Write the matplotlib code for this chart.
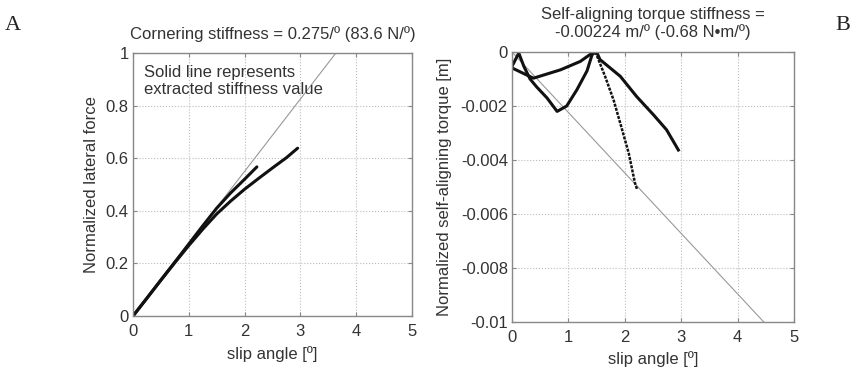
import numpy as np
import matplotlib
matplotlib.use("Agg")
import matplotlib.pyplot as plt

plt.rcParams['font.family'] = ['Liberation Sans', 'DejaVu Sans']

# Panel A: normalized lateral force vs slip angle
cornering_slope = 0.275
force_run1_x = [0, 0.25, 0.5, 0.75, 1.0, 1.25, 1.5, 1.75, 2.0, 2.22]
force_run1_y = [0, 0.068, 0.137, 0.205, 0.274, 0.343, 0.41, 0.468, 0.52, 0.567]
force_run2_x = [0, 0.25, 0.5, 0.75, 1.0, 1.25, 1.5, 1.75, 2.0, 2.25, 2.5, 2.75, 2.95]
force_run2_y = [0, 0.068, 0.136, 0.203, 0.268, 0.33, 0.388, 0.437, 0.482, 0.523, 0.563, 0.602, 0.638]

# Panel B: normalized self-aligning torque vs slip angle
torque_slope = -0.00224
torque_run1_x = [0, 0.12, 0.21, 0.32, 0.44, 0.62, 0.8, 0.97, 1.15, 1.33, 1.42, 1.48]
torque_run1_y = [-0.00053, -0.00004, -0.00053, -0.001, -0.0013, -0.0017, -0.0022,
                 -0.002, -0.0014, -0.0007, -0.0001, 0.0]
torque_run1b_x = [1.48, 1.65, 1.8, 1.92, 2.07, 2.18, 2.22]
torque_run1b_y = [0.0, -0.0009, -0.00177, -0.00264, -0.00375, -0.00485, -0.0051]
torque_run2_x = [0, 0.38, 0.86, 1.21, 1.42, 1.5, 1.56, 1.92, 2.21, 2.51, 2.74, 2.95]
torque_run2_y = [-0.00059, -0.00097, -0.00066, -0.00035, -0.00004, 0.0, -0.00028,
                 -0.0009, -0.00165, -0.00233, -0.00288, -0.00363]

W, H = 852, 367
fig = plt.figure(figsize=(W / 100, H / 100), dpi=100)

txt = '#333333'
spine_c = '#888888'


def style(ax, xpad):
    for s in ax.spines.values():
        s.set_color(spine_c)
        s.set_linewidth(1.0)
    ax.tick_params(direction='in', top=True, right=True, length=3,
                   colors=spine_c, labelcolor=txt, labelsize=12, pad=3)
    ax.tick_params(axis='x', pad=xpad)
    ax.grid(True, linestyle=':', color='#bbbbbb', linewidth=0.8)
    ax.set_axisbelow(True)


axA = fig.add_axes([133 / W, 1 - 316 / H, (412 - 133) / W, (316 - 53) / H])
style(axA, 6)
xa = np.array([0, 1.0 / cornering_slope])
axA.plot(xa, cornering_slope * xa, color='#999999', lw=0.8)
axA.plot(force_run1_x, force_run1_y, color='#111111', lw=2.2, solid_capstyle='round')
axA.plot(force_run2_x, force_run2_y, color='#111111', lw=2.2, solid_capstyle='round')
axA.set_xlim(0, 5)
axA.set_ylim(0, 1)
axA.set_xticks([0, 1, 2, 3, 4, 5])
axA.set_yticks([0, 0.2, 0.4, 0.6, 0.8, 1])
axA.set_yticklabels(['0', '0.2', '0.4', '0.6', '0.8', '1'])
axA.set_xlabel('slip angle [º]', fontsize=12, color=txt, labelpad=5)
axA.set_ylabel('Normalized lateral force', fontsize=12, color=txt, labelpad=5)
axA.set_title('Cornering stiffness = 0.275/º (83.6 N/º)', fontsize=12, color=txt, pad=10)
axA.text(0.04, 0.955, 'Solid line represents\nextracted stiffness value',
         transform=axA.transAxes, ha='left', va='top', fontsize=12, color=txt,
         linespacing=1.2)

axB = fig.add_axes([512 / W, 1 - 322 / H, (794 - 512) / W, (322 - 52) / H])
style(axB, 6)
xb = np.array([0, -0.01 / torque_slope])
axB.plot(xb, torque_slope * xb, color='#999999', lw=0.8)
axB.plot(torque_run1_x, torque_run1_y, color='#111111', lw=2.2, solid_joinstyle='round')
axB.plot(torque_run1b_x, torque_run1b_y, color='#111111', lw=1.8,
         linestyle=(0, (1.2, 0.5)))
axB.plot(torque_run2_x, torque_run2_y, color='#111111', lw=2.2, solid_joinstyle='round')
axB.set_xlim(0, 5)
axB.set_ylim(-0.01, 0)
axB.set_xticks([0, 1, 2, 3, 4, 5])
axB.set_yticks([-0.01, -0.008, -0.006, -0.004, -0.002, 0])
axB.set_yticklabels(['-0.01', '-0.008', '-0.006', '-0.004', '-0.002', '0'])
axB.set_xlabel('slip angle [º]', fontsize=12, color=txt, labelpad=4)
axB.set_ylabel('Normalized self-aligning torque [m]', fontsize=12, color=txt, labelpad=6)
axB.set_title('Self-aligning torque stiffness =\n-0.00224 m/º (-0.68 N•m/º)',
              fontsize=12, color=txt, pad=11, linespacing=1.15)

fig.text(5 / W, 1 - 25 / H, 'A', family='Liberation Serif', fontsize=16,
         color='#222222', ha='left', va='center')
fig.text(843 / W, 1 - 25 / H, 'B', family='Liberation Serif', fontsize=16,
         color='#222222', ha='center', va='center')

fig.savefig('out.png', dpi=100, facecolor='white')
